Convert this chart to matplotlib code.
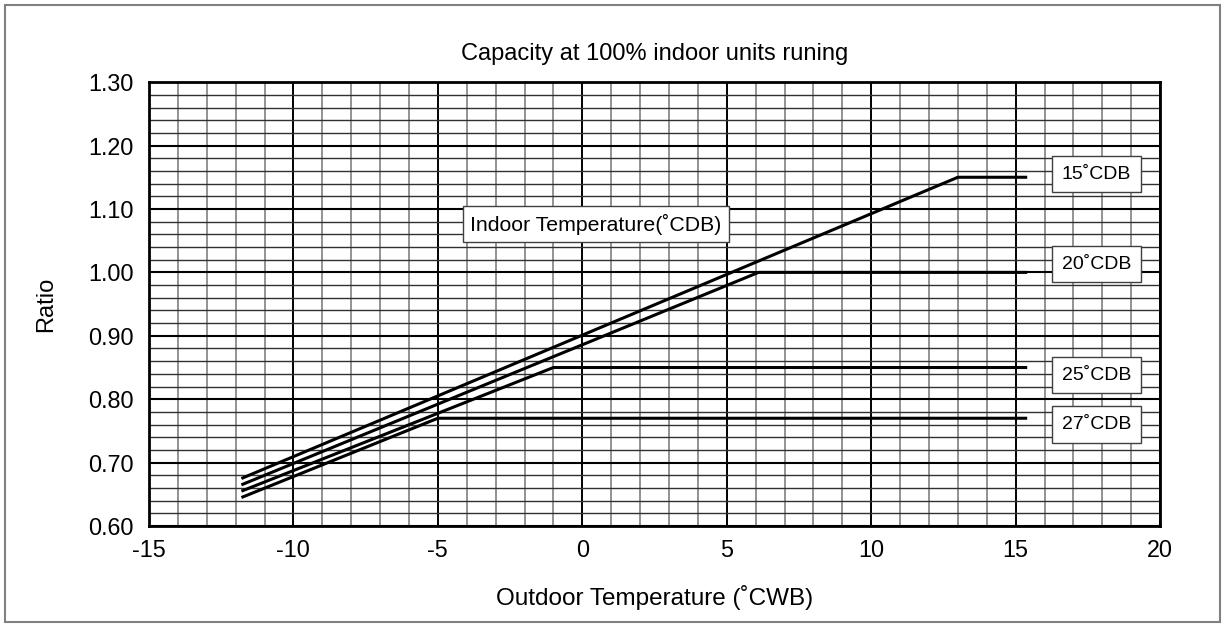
import numpy as np
import matplotlib.pyplot as plt
from matplotlib.patches import Rectangle

# indoor temperature curves: (x, ratio) break points
labels = ['15˚CDB', '20˚CDB', '25˚CDB', '27˚CDB']
x_15 = [-11.8, 13.0, 15.4]
y_15 = [0.675, 1.15, 1.15]
x_20 = [-11.8, 6.1, 15.4]
y_20 = [0.665, 1.00, 1.00]
x_25 = [-11.8, -1.0, 15.4]
y_25 = [0.655, 0.85, 0.85]
x_27 = [-11.8, -5.0, 15.4]
y_27 = [0.645, 0.77, 0.77]

# label box positions (data coords)
label_x = [17.8, 17.8, 17.8, 17.8]
label_y = [1.155, 1.013, 0.838, 0.760]

plt.rcParams.update({
    'font.family': ['Liberation Sans', 'DejaVu Sans'],
    'axes.unicode_minus': False,
})

fig = plt.figure(figsize=(12.25, 6.27), dpi=100)
ax = fig.add_axes([0.1216, 0.161, 0.8254, 0.708])

# grid
for v in np.arange(-15, 21, 1):
    if v % 5 == 0:
        ax.axvline(v, color='black', lw=1.4, zorder=1)
    else:
        ax.axvline(v, color='#808080', lw=1.2, zorder=1)
for v in np.arange(0.60, 1.301, 0.02):
    if abs(round(v * 10) - v * 10) < 1e-6:
        ax.axhline(v, color='black', lw=1.5, zorder=1)
    else:
        ax.axhline(v, color='#303030', lw=1.0, zorder=1)

for xs, ys in [(x_15, y_15), (x_20, y_20), (x_25, y_25), (x_27, y_27)]:
    ax.plot(xs, ys, color='black', lw=2.2, zorder=3, solid_capstyle='butt')

box = dict(boxstyle='square,pad=0.5', fc='white', ec='#404040', lw=1.0)
for lx, ly, lab in zip(label_x, label_y, labels):
    ax.text(lx, ly, lab, ha='center', va='center', fontsize=14, bbox=box, zorder=4)

ax.text(0.47, 1.076, 'Indoor Temperature(˚CDB)', ha='center', va='center',
        fontsize=15.3, zorder=4,
        bbox=dict(boxstyle='square,pad=0.35', fc='white', ec='#404040', lw=1.0))

ax.set_xlim(-15, 20)
ax.set_ylim(0.60, 1.30)
ax.set_xticks(np.arange(-15, 21, 5))
ax.set_yticks(np.arange(0.60, 1.301, 0.10))
ax.set_yticklabels(['%.2f' % v for v in np.arange(0.60, 1.301, 0.10)])
ax.tick_params(length=0, labelsize=16.8)
ax.tick_params(axis='y', pad=11)
ax.tick_params(axis='x', pad=9)
for s in ax.spines.values():
    s.set_linewidth(2)
    s.set_color('black')

ax.set_title('Capacity at 100% indoor units runing', fontsize=17, pad=16)
ax.set_xlabel('Outdoor Temperature (˚CWB)', fontsize=17.5, labelpad=17)
ax.set_ylabel('Ratio', fontsize=17, labelpad=22)

fig.patches.append(Rectangle((0.004, 0.008), 0.992, 0.984, transform=fig.transFigure,
                             fill=False, ec='#808080', lw=1.5))

fig.savefig('out.png', dpi=100)
